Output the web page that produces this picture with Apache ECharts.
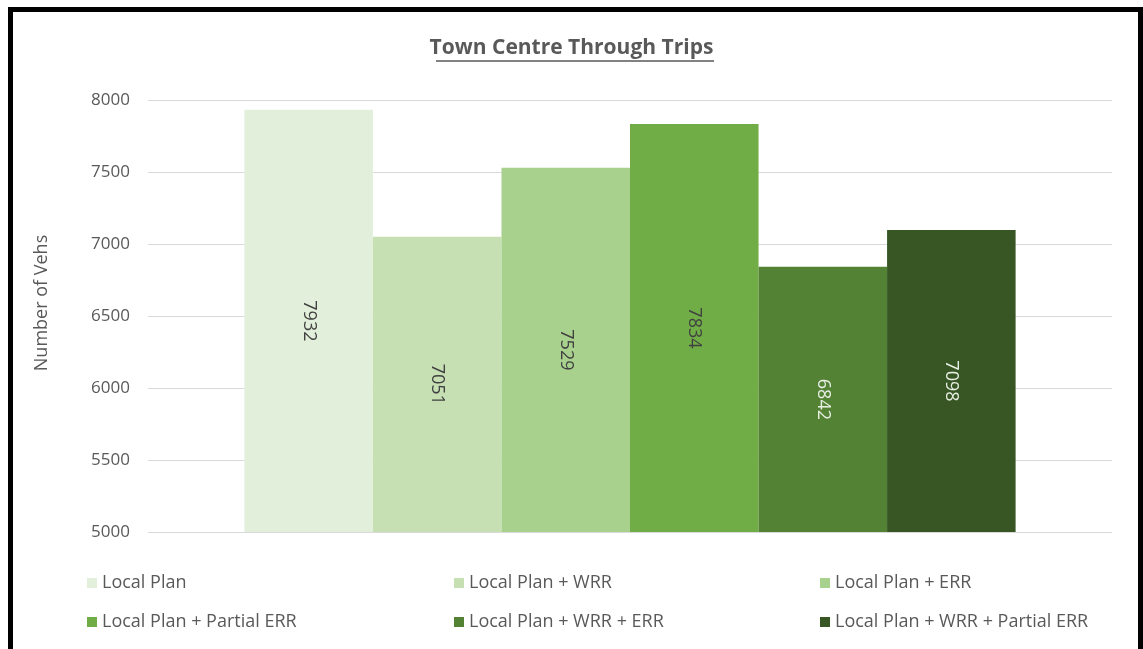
<!DOCTYPE html>
<html>
<head>
<meta charset="utf-8">
<title>Town Centre Through Trips</title>
<script src="https://cdn.jsdelivr.net/npm/echarts@6/dist/echarts.min.js"></script>
<style>
  html, body { margin: 0; padding: 0; background: #fff; }
  #chart { position: absolute; left: 0; top: 0; width: 1143px; height: 649px; }
  #frame { position: absolute; left: 8px; top: 7px; width: 1125px; height: 700px;
           border: 5px solid #000; pointer-events: none; }
</style>
</head>
<body>
<div id="chart"></div>
<div id="frame"></div>
<script>
const scenarios = ['Local Plan', 'Local Plan + WRR', 'Local Plan + ERR',
  'Local Plan + Partial ERR', 'Local Plan + WRR + ERR', 'Local Plan + WRR + Partial ERR'];
const trips = [7932, 7051, 7529, 7834, 6842, 7098];
const colors = ['#e2efda', '#c6e0b4', '#a9d18e', '#70ad47', '#548235', '#375623'];
const labelColors = ['#404040', '#404040', '#404040', '#404040', '#e8efe4', '#e8efe4'];
const yTicks = { min: 5000, max: 8000, step: 500 };

const chart = echarts.init(document.getElementById('chart'));
const font = 'Open Sans';

let series = [];
for (let i = 0; i < scenarios.length; i++) {
  series.push({
    name: scenarios[i],
    type: 'bar',
    data: [trips[i]],
    barGap: '0%',
    barCategoryGap: '20%',
    itemStyle: { color: colors[i] },
    label: {
      show: true,
      position: 'inside',
      rotate: -90,
      color: labelColors[i],
      fontSize: 18,
      fontFamily: font
    }
  });
}

// three legend columns, two rows each
let legends = [];
const colLeft = [82, 449, 815];
for (let c = 0; c < 3; c++) {
  legends.push({
    left: colLeft[c],
    top: 569,
    orient: 'vertical',
    itemGap: 21,
    itemWidth: 10,
    itemHeight: 10,
    icon: 'rect',
    selectedMode: false,
    textStyle: { color: '#595959', fontSize: 18, fontFamily: font },
    data: [scenarios[c], scenarios[c + 3]]
  });
}

chart.setOption({
  title: {
    text: 'Town Centre Through Trips',
    left: 'center',
    top: 33,
    textStyle: { color: '#595959', fontSize: 21, fontWeight: 'bold', fontFamily: font }
  },
  graphic: [{
    type: 'line',
    shape: { x1: 436, y1: 61, x2: 714, y2: 61 },
    style: { stroke: '#595959', lineWidth: 1.5 }
  }],
  legend: legends,
  grid: { left: 148, right: 31, top: 100, bottom: 117 },
  xAxis: {
    type: 'category',
    data: [''],
    axisLine: { show: false },
    axisTick: { show: false },
    axisLabel: { show: false }
  },
  yAxis: {
    type: 'value',
    min: yTicks.min,
    max: yTicks.max,
    interval: yTicks.step,
    name: 'Number of Vehs',
    nameLocation: 'middle',
    nameGap: 97,
    nameTextStyle: { color: '#595959', fontSize: 18, fontFamily: font, padding: [0, 0, 0, 26] },
    axisLabel: { color: '#595959', fontSize: 17, margin: 18, fontFamily: font,
      formatter: function (v) { return String(v); } },
    splitLine: { lineStyle: { color: '#d9d9d9', width: 1 } },
    axisLine: { show: false },
    axisTick: { show: false }
  },
  series: series
});
</script>
</body>
</html>
